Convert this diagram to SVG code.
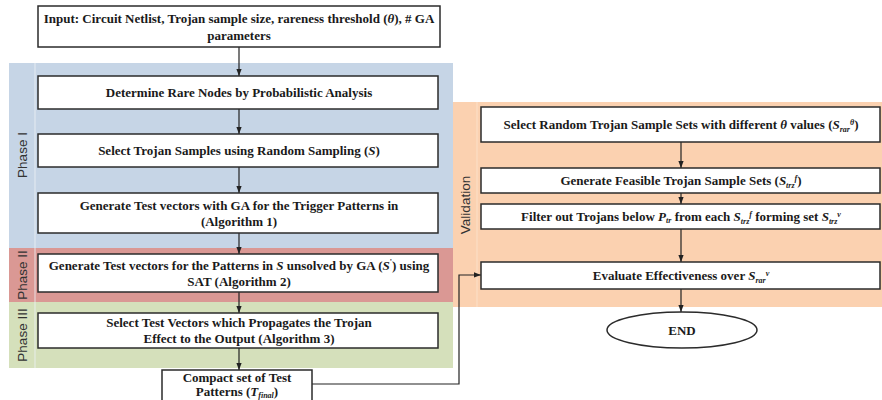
<svg xmlns="http://www.w3.org/2000/svg" width="882" height="400" viewBox="0 0 882 400">
<defs>
<style>
.box{fill:#ffffff;stroke:#2b2b2b;stroke-width:1.5}
.t{font-family:"Liberation Serif","Times New Roman",serif;font-weight:bold;font-size:13px;fill:#1a1a1a;text-anchor:middle}
.i{font-style:italic}
.s{font-size:8px}
.lab{font-family:"Liberation Sans",Arial,sans-serif;font-size:13.5px;fill:#333333;text-anchor:middle}
.c{fill:none;stroke:#222222;stroke-width:1.2}
.sep{stroke:#eef2f6;stroke-width:1;opacity:0.8}
</style>
<marker id="ah" viewBox="0 0 8 8" refX="8" refY="4" markerWidth="6" markerHeight="6" orient="auto">
<path d="M0,1 L8,4 L0,7 Z" fill="#222222"/>
</marker>
</defs>

<g id="bands">
<rect x="9" y="63" width="444" height="185" fill="#c6d5e6"/>
<rect x="9" y="248" width="444" height="54" fill="#da9894"/>
<rect x="9" y="302" width="444" height="66" fill="#d5e0bb"/>
<rect x="453" y="102" width="429" height="205" fill="#fbd1b0"/>
<line class="sep" x1="35" y1="63" x2="35" y2="368"/>
<line class="sep" x1="477" y1="102" x2="477" y2="307" style="stroke:#fde4d0"/>
<text class="lab" transform="translate(27,155) rotate(-90)">Phase I</text>
<text class="lab" transform="translate(27,275) rotate(-90)">Phase II</text>
<text class="lab" transform="translate(27,335) rotate(-90)">Phase III</text>
<text class="lab" transform="translate(470,205) rotate(-90)">Validation</text>
</g>

<g id="connectors">
<line class="c" x1="239" y1="47" x2="239" y2="76" marker-end="url(#ah)"/>
<line class="c" x1="239" y1="109" x2="239" y2="134" marker-end="url(#ah)"/>
<line class="c" x1="239" y1="167" x2="239" y2="193" marker-end="url(#ah)"/>
<line class="c" x1="239" y1="233" x2="239" y2="254" marker-end="url(#ah)"/>
<line class="c" x1="239" y1="292" x2="239" y2="313" marker-end="url(#ah)"/>
<line class="c" x1="239" y1="348" x2="239" y2="370" marker-end="url(#ah)"/>
<polyline class="c" points="312,384 459,384 459,275 481,275" marker-end="url(#ah)"/>
<line class="c" x1="681" y1="142" x2="681" y2="168" marker-end="url(#ah)"/>
<line class="c" x1="681" y1="193" x2="681" y2="204" marker-end="url(#ah)"/>
<line class="c" x1="681" y1="229" x2="681" y2="262" marker-end="url(#ah)"/>
<line class="c" x1="681" y1="289" x2="681" y2="312" marker-end="url(#ah)"/>
</g>

<g id="n-input">
<rect class="box" x="38" y="6" width="402" height="41"/>
<text class="t" x="239" y="23">Input: Circuit Netlist, Trojan sample size, rareness threshold (<tspan class="i">θ</tspan>), # GA</text>
<text class="t" x="239" y="40">parameters</text>
</g>

<g id="n-rare">
<rect class="box" x="38" y="76" width="400" height="33"/>
<text class="t" x="239" y="97">Determine Rare Nodes by Probabilistic Analysis</text>
</g>

<g id="n-select">
<rect class="box" x="38" y="134" width="400" height="33"/>
<text class="t" x="239" y="155">Select Trojan Samples using Random Sampling (<tspan class="i">S</tspan>)</text>
</g>

<g id="n-ga">
<rect class="box" x="38" y="193" width="400" height="40"/>
<text class="t" x="239" y="210">Generate Test vectors with GA for the Trigger Patterns in</text>
<text class="t" x="239" y="226">(Algorithm 1)</text>
</g>

<g id="n-sat">
<rect class="box" x="38" y="254" width="400" height="38"/>
<text class="t" x="239" y="270">Generate Test vectors  for the Patterns in <tspan class="i">S</tspan> unsolved by GA (<tspan class="i">S</tspan><tspan dy="-5" class="s">'</tspan><tspan dy="5">) using</tspan></text>
<text class="t" x="239" y="286">SAT (Algorithm 2)</text>
</g>

<g id="n-prop">
<rect class="box" x="38" y="313" width="400" height="35"/>
<text class="t" x="239" y="327">Select Test Vectors which Propagates the Trojan</text>
<text class="t" x="239" y="343">Effect to the Output (Algorithm 3)</text>
</g>

<g id="n-compact">
<rect class="box" x="162" y="370" width="150" height="34"/>
<text class="t" x="237" y="382">Compact set of Test</text>
<text class="t" x="237" y="396">Patterns (<tspan class="i">T</tspan><tspan class="s i" dy="2">final</tspan><tspan dy="-2">)</tspan></text>
</g>

<g id="n-random">
<rect class="box" x="481" y="107" width="399" height="35"/>
<text class="t" x="681" y="129">Select Random Trojan Sample Sets with different <tspan class="i">θ</tspan> values (<tspan class="i">S</tspan><tspan class="s i" dy="3">rar</tspan><tspan class="s i" dy="-7">θ</tspan><tspan dy="4">)</tspan></text>
</g>

<g id="n-feasible">
<rect class="box" x="481" y="168" width="399" height="25"/>
<text class="t" x="681" y="185">Generate Feasible Trojan Sample Sets (<tspan class="i">S</tspan><tspan class="s i" dy="3">trz</tspan><tspan class="s i" dy="-7">f</tspan><tspan dy="4">)</tspan></text>
</g>

<g id="n-filter">
<rect class="box" x="481" y="204" width="399" height="25"/>
<text class="t" x="681" y="221">Filter out Trojans below <tspan class="i">P</tspan><tspan class="s i" dy="2">tr</tspan><tspan dy="-2"> from each </tspan><tspan class="i">S</tspan><tspan class="s i" dy="3">trz</tspan><tspan class="s i" dy="-7">f</tspan><tspan dy="4"> forming set </tspan><tspan class="i">S</tspan><tspan class="s i" dy="3">trz</tspan><tspan class="s i" dy="-7">v</tspan></text>
</g>

<g id="n-eval">
<rect class="box" x="481" y="262" width="399" height="27"/>
<text class="t" x="681" y="280">Evaluate Effectiveness over <tspan class="i">S</tspan><tspan class="s i" dy="3">rar</tspan><tspan class="s i" dy="-7">v</tspan></text>
</g>

<g id="n-end">
<ellipse cx="682" cy="330" rx="75" ry="18" fill="#ffffff" stroke="#2b2b2b" stroke-width="1.5"/>
<text class="t" x="682" y="335">END</text>
</g>
</svg>
